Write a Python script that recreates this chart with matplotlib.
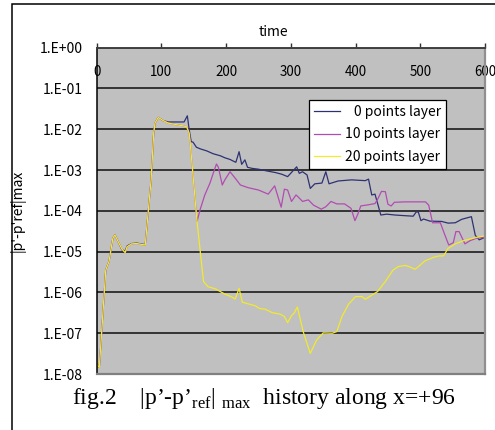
import matplotlib
matplotlib.use("Agg")
import matplotlib.pyplot as plt
from matplotlib.patches import Rectangle
from matplotlib.ticker import NullLocator

plt.rcParams['font.family'] = ['Noto Sans CJK JP', 'DejaVu Sans']
plt.rcParams['mathtext.fontset'] = 'custom'
plt.rcParams['mathtext.rm'] = 'Liberation Serif'

# axis ticks
time_ticks = [0, 100, 200, 300, 400, 500, 600]
y_ticks = [1e0, 1e-1, 1e-2, 1e-3, 1e-4, 1e-5, 1e-6, 1e-7, 1e-8]
y_tick_labels = ["1.E+00", "1.E-01", "1.E-02", "1.E-03", "1.E-04",
                 "1.E-05", "1.E-06", "1.E-07", "1.E-08"]

# 0 points layer
t_0 = [0, 4, 14, 19, 25, 28, 33, 39, 44, 47, 54, 62, 75, 78, 84, 88, 90, 95,
       103, 111, 135, 140, 143, 146, 149, 154, 160, 170, 180, 191, 198, 206,
       211, 215, 220, 224, 229, 233, 240, 250, 263, 276, 286, 295, 309, 313,
       318, 325, 330, 337, 348, 354, 359, 373, 394, 415, 420, 425, 430, 439,
       448, 461, 477, 489, 494, 497, 501, 505, 515, 533, 543, 554, 564, 579,
       585, 591, 600]
v_0 = [1.74e-8, 1.45e-8, 3.55e-6, 5.75e-6, 2.14e-5, 2.57e-5, 1.78e-5, 1.10e-5,
       1.05e-5, 1.38e-5, 1.58e-5, 1.62e-5, 1.48e-5, 5.0e-5, 5.6e-4, 7.9e-3,
       1.41e-2, 1.95e-2, 1.62e-2, 1.51e-2, 1.51e-2, 2.14e-2, 9.5e-3, 5.0e-3,
       4.8e-3, 3.63e-3, 3.31e-3, 2.95e-3, 2.51e-3, 2.24e-3, 2.0e-3, 1.82e-3,
       1.66e-3, 1.55e-3, 2.82e-3, 1.38e-3, 1.78e-3, 1.17e-3, 1.10e-3, 1.05e-3,
       9.5e-4, 8.7e-4, 7.9e-4, 6.9e-4, 1.20e-3, 8.3e-4, 9.1e-4, 7.6e-4,
       3.55e-4, 4.6e-4, 4.8e-4, 9.1e-4, 4.6e-4, 5.4e-4, 5.75e-4, 5.5e-4,
       6.0e-4, 2.45e-4, 2.57e-4, 7.9e-5, 8.3e-5, 7.9e-5, 7.6e-5, 7.4e-5,
       9.5e-5, 9.3e-5, 5.75e-5, 6.3e-5, 5.6e-5, 5.5e-5, 5.0e-5, 5.1e-5,
       6.2e-5, 7.2e-5, 2.51e-5, 1.95e-5, 2.24e-5]

# 10 points layer
t_10 = [0, 4, 14, 19, 25, 28, 33, 39, 44, 47, 54, 62, 75, 78, 84, 88, 90, 95,
        103, 111, 124, 135, 139, 143, 145, 155, 160, 167, 175, 180, 185, 188,
        194, 198, 206, 216, 222, 234, 250, 265, 275, 285, 290, 295, 301, 308,
        312, 318, 327, 335, 347, 354, 362, 371, 383, 393, 399, 404, 408, 420,
        430, 434, 440, 446, 450, 455, 460, 476, 508, 513, 519, 531, 537, 544,
        551, 555, 560, 569, 577, 587, 600]
v_10 = [1.74e-8, 1.45e-8, 3.55e-6, 5.75e-6, 2.14e-5, 2.57e-5, 1.78e-5, 1.15e-5,
        9.5e-6, 1.32e-5, 1.55e-5, 1.58e-5, 1.45e-5, 5.0e-5, 5.6e-4, 7.9e-3,
        1.41e-2, 1.95e-2, 1.62e-2, 1.41e-2, 1.29e-2, 1.20e-2, 1.15e-2, 7.9e-3,
        3.7e-3, 5.5e-5, 1.10e-4, 2.45e-4, 4.8e-4, 8.3e-4, 1.41e-3, 1.17e-3,
        4.3e-4, 5.75e-4, 9.1e-4, 5.75e-4, 4.3e-4, 3.7e-4, 3.24e-4, 2.57e-4,
        4.1e-4, 1.23e-4, 3.4e-4, 3.24e-4, 1.70e-4, 2.45e-4, 2.14e-4, 1.70e-4,
        1.86e-4, 1.38e-4, 1.10e-4, 1.26e-4, 1.70e-4, 1.48e-4, 1.48e-4, 1.15e-4,
        5.75e-5, 8.7e-5, 1.32e-4, 1.41e-4, 1.51e-4, 1.91e-4, 3.0e-4, 2.95e-4,
        1.45e-4, 1.32e-4, 1.62e-4, 1.66e-4, 1.66e-4, 1.38e-4, 5.1e-5, 5.1e-5,
        2.82e-5, 1.45e-5, 1.66e-5, 3.1e-5, 3.1e-5, 1.55e-5, 1.86e-5, 2.14e-5,
        2.24e-5]

# 20 points layer
t_20 = [0, 4, 14, 19, 25, 28, 33, 39, 44, 47, 54, 62, 75, 78, 84, 88, 90, 95,
        103, 111, 124, 135, 139, 143, 145, 155, 165, 172, 183, 191, 198, 206,
        214, 220, 225, 237, 245, 252, 260, 271, 283, 290, 295, 301, 305, 310,
        319, 330, 340, 350, 364, 371, 379, 389, 400, 410, 415, 434, 446, 458,
        466, 477, 484, 492, 500, 507, 520, 528, 536, 543, 554, 567, 577, 587,
        600]
v_20 = [1.74e-8, 1.45e-8, 3.55e-6, 5.75e-6, 2.14e-5, 2.57e-5, 1.78e-5, 1.15e-5,
        9.5e-6, 1.32e-5, 1.55e-5, 1.58e-5, 1.45e-5, 5.0e-5, 5.6e-4, 7.9e-3,
        1.41e-2, 1.95e-2, 1.62e-2, 1.41e-2, 1.29e-2, 1.20e-2, 1.15e-2, 7.9e-3,
        3.7e-3, 5.5e-5, 1.86e-6, 1.38e-6, 1.23e-6, 1.05e-6, 9.1e-7, 8.1e-7,
        6.9e-7, 1.26e-6, 5.75e-7, 5.1e-7, 4.7e-7, 4.0e-7, 3.9e-7, 3.2e-7,
        2.95e-7, 2.57e-7, 1.82e-7, 2.7e-7, 3.1e-7, 4.4e-7, 1.10e-7, 3.2e-8,
        6.9e-8, 1.02e-7, 1.0e-7, 1.10e-7, 2.57e-7, 5.1e-7, 7.9e-7, 7.9e-7,
        6.8e-7, 1.05e-6, 1.86e-6, 3.55e-6, 4.3e-6, 4.6e-6, 4.2e-6, 3.7e-6,
        4.7e-6, 5.9e-6, 7.2e-6, 7.8e-6, 7.9e-6, 1.20e-5, 1.55e-5, 1.86e-5,
        2.04e-5, 2.24e-5, 2.45e-5]

fig = plt.figure(figsize=(4.95, 4.3), dpi=100)
fig.patch.set_facecolor('white')

# outer frame of the figure
fig.patches.append(Rectangle((0.0242, -0.2), 1.2, 1.1907, transform=fig.transFigure,
                             fill=False, edgecolor='black', linewidth=1.1))

ax = fig.add_axes([0.1954, 0.1302, 0.7844, 0.7589])
ax.set_facecolor('#c0c0c0')

ax.plot(t_0, v_0, color='#2e3273', lw=0.9, label='\u20070 points layer')
ax.plot(t_10, v_10, color='#b24cb2', lw=0.9, label='10 points layer')
ax.plot(t_20, v_20, color='#f2ea2c', lw=0.9, label='20 points layer')

ax.set_yscale('log')
ax.set_ylim(1e-8, 1e0)
ax.set_xlim(0, 600)
ax.set_yticks(y_ticks)
ax.set_yticklabels(y_tick_labels)
ax.yaxis.set_minor_locator(NullLocator())
ax.grid(axis='y', color='#1c1c1c', lw=1.2)

ax.set_xticks(time_ticks)
ax.xaxis.tick_top()
ax.tick_params(axis='x', direction='out', length=3.6, width=1.0, color='#303030',
               pad=-26.5, labelsize=9.6)
ax.tick_params(axis='y', length=0, pad=9.9, labelsize=10)

ax.spines['left'].set_color('black')
ax.spines['left'].set_linewidth(1.1)
ax.spines['top'].set_color('#404040')
ax.spines['top'].set_linewidth(1.4)
ax.spines['bottom'].set_color('#808080')
ax.spines['bottom'].set_linewidth(1.6)
ax.spines['right'].set_color('#909090')
ax.spines['right'].set_linewidth(1.6)
for s in ax.spines.values():
    s.set_zorder(3)

ax.xaxis.set_label_position('top')
ax.set_xlabel('time', fontsize=10)
ax.xaxis.set_label_coords(0.456, 1.036)
ax.set_ylabel("|p'-p'ref|max", fontsize=10)
ax.yaxis.set_label_coords(-0.182, 0.5)

leg = ax.legend(loc='upper left', bbox_to_anchor=(0.547, 0.840), borderaxespad=0,
                fancybox=False, framealpha=1, edgecolor='black', fontsize=10,
                handlelength=1.9, handletextpad=0.3, labelspacing=0.62,
                borderpad=0.35)
leg.get_frame().set_linewidth(0.9)

fig.text(72 / 495, 1 - 404 / 430,
         r"fig.2    |p’-p’$_{\mathrm{ref}}$| $_{\mathrm{max}}$  history along x=+96",
         fontsize=17, family='Liberation Serif', ha='left', va='baseline')

fig.savefig('out.png', dpi=100)
